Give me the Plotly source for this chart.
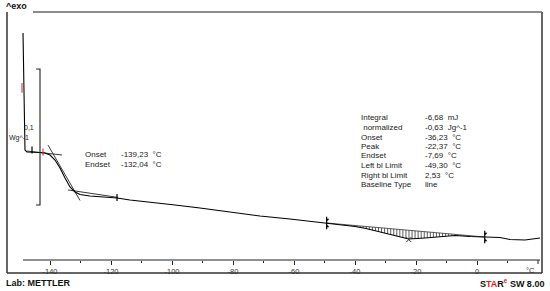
import numpy as np
import plotly.graph_objects as go

# ---- DSC curve (temperature in °C, heat flow in W/g, arbitrary offset) ----
temp = [-148.85, -148.52, -148.20, -147.54, -145.57, -143.28, -141.64, -140.00, -138.36,
        -136.72, -135.08, -133.44, -131.80, -130.16, -126.89, -123.61, -118.03, -113.77,
        -107.21, -99.02, -90.82, -80.98, -71.15, -61.31, -49.30, -44.92, -40.00, -36.39,
        -31.80, -26.89, -22.37, -17.05, -12.13, -7.21, -2.30, 2.53, 7.54, 10.82, 15.74, 20.66]
heat = [0.0875, 0.0456, 0.0015, 0.0000, 0.0000, -0.0004, -0.0007, -0.0022, -0.0059,
        -0.0118, -0.0191, -0.0257, -0.0294, -0.0313, -0.0324, -0.0331, -0.0338, -0.0353,
        -0.0368, -0.0390, -0.0412, -0.0441, -0.0471, -0.0493, -0.0522, -0.0533, -0.0548, -0.0563,
        -0.0588, -0.0618, -0.0640, -0.0632, -0.0621, -0.0614, -0.0621, -0.0625, -0.0629, -0.0643, -0.0647, -0.0632]

# glass transition construction lines
pre_base_t = [-147.54, -136.07]
pre_base_h = [0.0007, -0.0022]
tangent_t = [-140.66, -130.16]
tangent_h = [0.0051, -0.0356]
post_base_t = [-134.10, -117.70]
post_base_h = [-0.0279, -0.0334]

# integration limits / baseline
left_limit = -49.30
right_limit = 2.53
peak_t = -22.37

# scale bar 0.1 W/g
scale_t = -143.28
scale_top = 0.0610
scale_len = 0.1

tick_vals = [-140, -120, -100, -80, -60, -40, -20, 0]
tick_text = ["-140", "-120", "-100", "-80", "-60", "-40", "-20", "0"]
minor_vals = [-130, -110, -90, -70, -50, -30, -10, 10]
end_tick = 20

results_labels = ["Integral", "&nbsp;normalized", "Onset", "Peak", "Endset",
                  "Left bl Limit", "Right bl Limit", "Baseline Type"]
results_values = ["-6,68  mJ", "-0,63  Jg^-1", "-36,23  °C", "-22,37  °C", "-7,69  °C",
                  "-49,30  °C", "2,53  °C", "line"]
onset_labels = ["Onset", "Endset"]
onset_values = ["-139,23  °C", "-132,04  °C"]

# ---------------------------------------------------------------------------
W, H = 550, 291
L, R, T, B = 7, 542, 12, 260   # plot area in px


def px(x):
    return (x - L) / (R - L)


def py(y):
    return (B - y) / (B - T)


FONT = "Liberation Sans, Arial, sans-serif"
fig = go.Figure()

t_arr = np.array(temp)
h_arr = np.array(heat)
h_left = np.interp(left_limit, t_arr, h_arr)
h_right = np.interp(right_limit, t_arr, h_arr)

# hatching between baseline and curve
hx, hy = [], []
for tv in np.arange(left_limit + 1.0, right_limit, 1.0):
    b = h_left + (h_right - h_left) * (tv - left_limit) / (right_limit - left_limit)
    c = np.interp(tv, t_arr, h_arr)
    if c < b - 0.0004:
        hx += [tv, tv, None]
        hy += [b, c, None]
fig.add_trace(go.Scatter(x=hx, y=hy, mode="lines", line=dict(color="#333", width=0.8),
                         hoverinfo="skip"))

# baseline
fig.add_trace(go.Scatter(x=[left_limit, right_limit], y=[h_left, h_right], mode="lines",
                         line=dict(color="#333", width=0.8), hoverinfo="skip"))

# construction lines
for xs, ys in [(pre_base_t, pre_base_h), (tangent_t, tangent_h), (post_base_t, post_base_h)]:
    fig.add_trace(go.Scatter(x=xs, y=ys, mode="lines", line=dict(color="#222", width=0.9),
                             hoverinfo="skip"))

# main curve
fig.add_trace(go.Scatter(x=temp, y=heat, mode="lines", line=dict(color="black", width=1.1),
                         hoverinfo="skip"))

# scale bar
st2 = scale_t - 1.3
fig.add_trace(go.Scatter(x=[st2, scale_t, scale_t, st2],
                         y=[scale_top, scale_top, scale_top - scale_len, scale_top - scale_len],
                         mode="lines", line=dict(color="#222", width=1.1), hoverinfo="skip"))

# limit markers
for lt, lh in [(left_limit, h_left), (right_limit, h_right)]:
    fig.add_trace(go.Scatter(x=[lt], y=[lh], mode="markers",
                             marker=dict(symbol="line-ns", size=9, line=dict(color="black", width=1.2)),
                             hoverinfo="skip"))
    fig.add_trace(go.Scatter(x=[lt + 0.3, lt + 0.3], y=[lh + 0.0025, lh - 0.0025], mode="markers",
                             marker=dict(symbol=["triangle-down", "triangle-up"], size=3, color="black"),
                             hoverinfo="skip"))

# peak marker
fig.add_trace(go.Scatter(x=[peak_t], y=[np.interp(peak_t, t_arr, h_arr) - 0.0004], mode="markers",
                         marker=dict(symbol="x-thin", size=5, line=dict(color="#333", width=1)),
                         hoverinfo="skip"))

# small flags on curve
fig.add_trace(go.Scatter(x=[-145.9, -118.03], y=[0.0015, -0.0335], mode="markers",
                         marker=dict(symbol="line-ns", size=5, line=dict(color="black", width=1.2)),
                         hoverinfo="skip"))
fig.add_trace(go.Scatter(x=[-142.30, -149.18], y=[0.0, 0.0471], mode="markers",
                         marker=dict(symbol="line-ns", size=[5, 7], line=dict(color="#d03030", width=1.5)),
                         hoverinfo="skip"))

shapes = []
fc = "#333"
# frame
shapes.append(dict(type="line", xref="paper", yref="paper", x0=px(7), x1=px(7), y0=py(12), y1=py(273),
                   line=dict(color=fc, width=1.5)))
shapes.append(dict(type="line", xref="paper", yref="paper", x0=px(7), x1=px(542), y0=py(273), y1=py(273),
                   line=dict(color=fc, width=1.5)))
shapes.append(dict(type="line", xref="paper", yref="paper", x0=px(542), x1=px(542), y0=py(12), y1=py(273),
                   line=dict(color=fc, width=1.5)))
shapes.append(dict(type="line", xref="paper", yref="paper", x0=px(33), x1=px(542), y0=py(12), y1=py(12),
                   line=dict(color="#666", width=1.5)))
# axis line and end tick
shapes.append(dict(type="line", xref="x", yref="paper", x0=-148.85, x1=20.66, y0=0, y1=0,
                   line=dict(color="#222", width=1)))
shapes.append(dict(type="line", xref="x", yref="paper", x0=end_tick, x1=end_tick, y0=0, y1=py(264),
                   line=dict(color="#222", width=1)))

ann = []
def text(x, y, s, size=7.5, anchor="left", bold=False, color="#222"):
    ann.append(dict(xref="paper", yref="paper", x=px(x), y=py(y), text=("<b>%s</b>" % s) if bold else s,
                    showarrow=False, xanchor=anchor, yanchor="middle",
                    font=dict(family=FONT, size=size, color=color)))

text(4, 6, "^exo", size=9, bold=True, color="#111")
text(4, 283, "Lab: METTLER", size=9, bold=True, color="#111")
text(546, 283, "S<span style='color:#e02020'>TA</span>R<sup><span style='color:#e02020'>e</span></sup> SW 8.00",
     size=9, anchor="right", bold=True, color="#111")
text(29, 127, "0,1", size=7, anchor="center")
text(7, 138, "Wg^-1", size=7)
text(537, 270, "°C", size=7.5, anchor="right", color="#333")
for i, (lab, val) in enumerate(zip(onset_labels, onset_values)):
    text(83, 154.5 + 9.5 * i, lab, size=8)
    text(119, 154.5 + 9.5 * i, val, size=8)
for i, (lab, val) in enumerate(zip(results_labels, results_values)):
    text(359, 118 + 9.5 * i, lab, size=8)
    text(423, 118 + 9.5 * i, val, size=8)

fig.update_layout(
    width=W, height=H,
    margin=dict(l=L, r=W - R, t=T, b=H - B),
    paper_bgcolor="white", plot_bgcolor="white",
    showlegend=False,
    shapes=shapes, annotations=ann,
    xaxis=dict(range=[(L - 477) / 3.05, (R - 477) / 3.05], showgrid=False, zeroline=False,
               showline=False, ticks="outside", ticklen=4, tickwidth=1, tickcolor="#222",
               tickvals=tick_vals, ticktext=tick_text,
               tickfont=dict(family=FONT, size=7.5, color="#333"),
               minor=dict(tickvals=minor_vals, ticks="outside", ticklen=2, tickcolor="#222")),
    yaxis=dict(range=[(152 - B) / 1360, (152 - T) / 1360], visible=False),
)

fig.write_html("out.html", config={"displayModeBar": False},
               post_script="document.body.style.margin='0';document.body.style.overflow='hidden';")
